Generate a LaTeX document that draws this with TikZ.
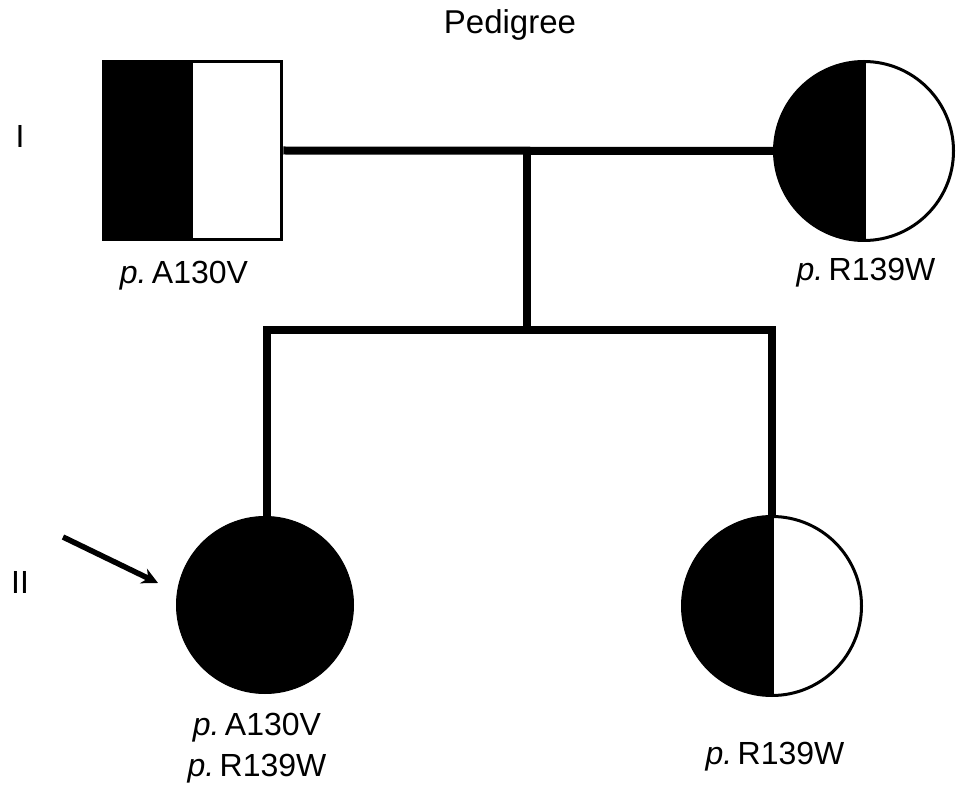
\documentclass[tikz,border=0pt]{standalone}
\usepackage{fontspec}
\setmainfont{Liberation Sans}
\usetikzlibrary{arrows.meta}
\begin{document}
\begin{tikzpicture}[x=1pt,y=-1pt,
  lbl/.style={font=\fontsize{32}{38}\selectfont, inner sep=0pt, align=center},
  conn/.style={line width=8pt},
  halfsq/.style={rectangle, draw, line width=3.5pt, minimum size=178pt, inner sep=0pt,
    path picture={\fill[black] (path picture bounding box.south west) rectangle (path picture bounding box.north);}},
  halfci/.style={circle, draw, line width=3pt, minimum size=179pt, inner sep=0pt,
    path picture={\fill[black] (path picture bounding box.south west) rectangle (path picture bounding box.north);
      \draw[line width=3pt] (path picture bounding box.south) -- (path picture bounding box.north);}},
  fullci/.style={circle, fill=black, draw, line width=1pt, minimum size=177pt, inner sep=0pt}]
\useasboundingbox (0,0) rectangle (969,802);

\node[lbl, font=\fontsize{33}{38}\selectfont] (title) at (510,25) {Pedigree};
\node[lbl] (genI) at (20,136) {I};
\node[lbl] (genII) at (20,582) {II};

% generation I
\node[halfsq] (father) at (192.5,150.5) {};
\node[halfci] (mother) at (864,151) {};
\node[lbl] (lf) at (184,276) {\textit{p.}\,A130V};
\node[lbl] (lm) at (866,273) {\textit{p.}\,R139W};

% generation II
\node[fullci] (c1) at (265,605) {};
\node[halfci] (c2) at (772,606) {};
\node[lbl] (lc1) at (257,748) {\textit{p.}\,A130V\\[3pt]\textit{p.}\,R139W};
\node[lbl] (lc2) at (775,757) {\textit{p.}\,R139W};

% connectors
\coordinate (mate) at (527,150);
\coordinate (sib) at (527,330);
\coordinate (sibL) at (267,330);
\coordinate (sibR) at (772,330);
\draw[conn] (father.east) -- (mother.west);
\draw[conn] (mate) -- (sib);
\draw[conn, line cap=rect] (sibL) -- (sibR);
\draw[conn] (sibL) -- (sibL |- c1.north);
\draw[conn] (sibR) -- (c2.north);

% proband arrow
\coordinate (arrowstart) at (63,537);
\coordinate (arrowtip) at (158,583);
\draw[line width=5.5pt, -{Stealth[length=16pt,width=16pt]}] (arrowstart) -- (arrowtip);
\end{tikzpicture}
\end{document}
